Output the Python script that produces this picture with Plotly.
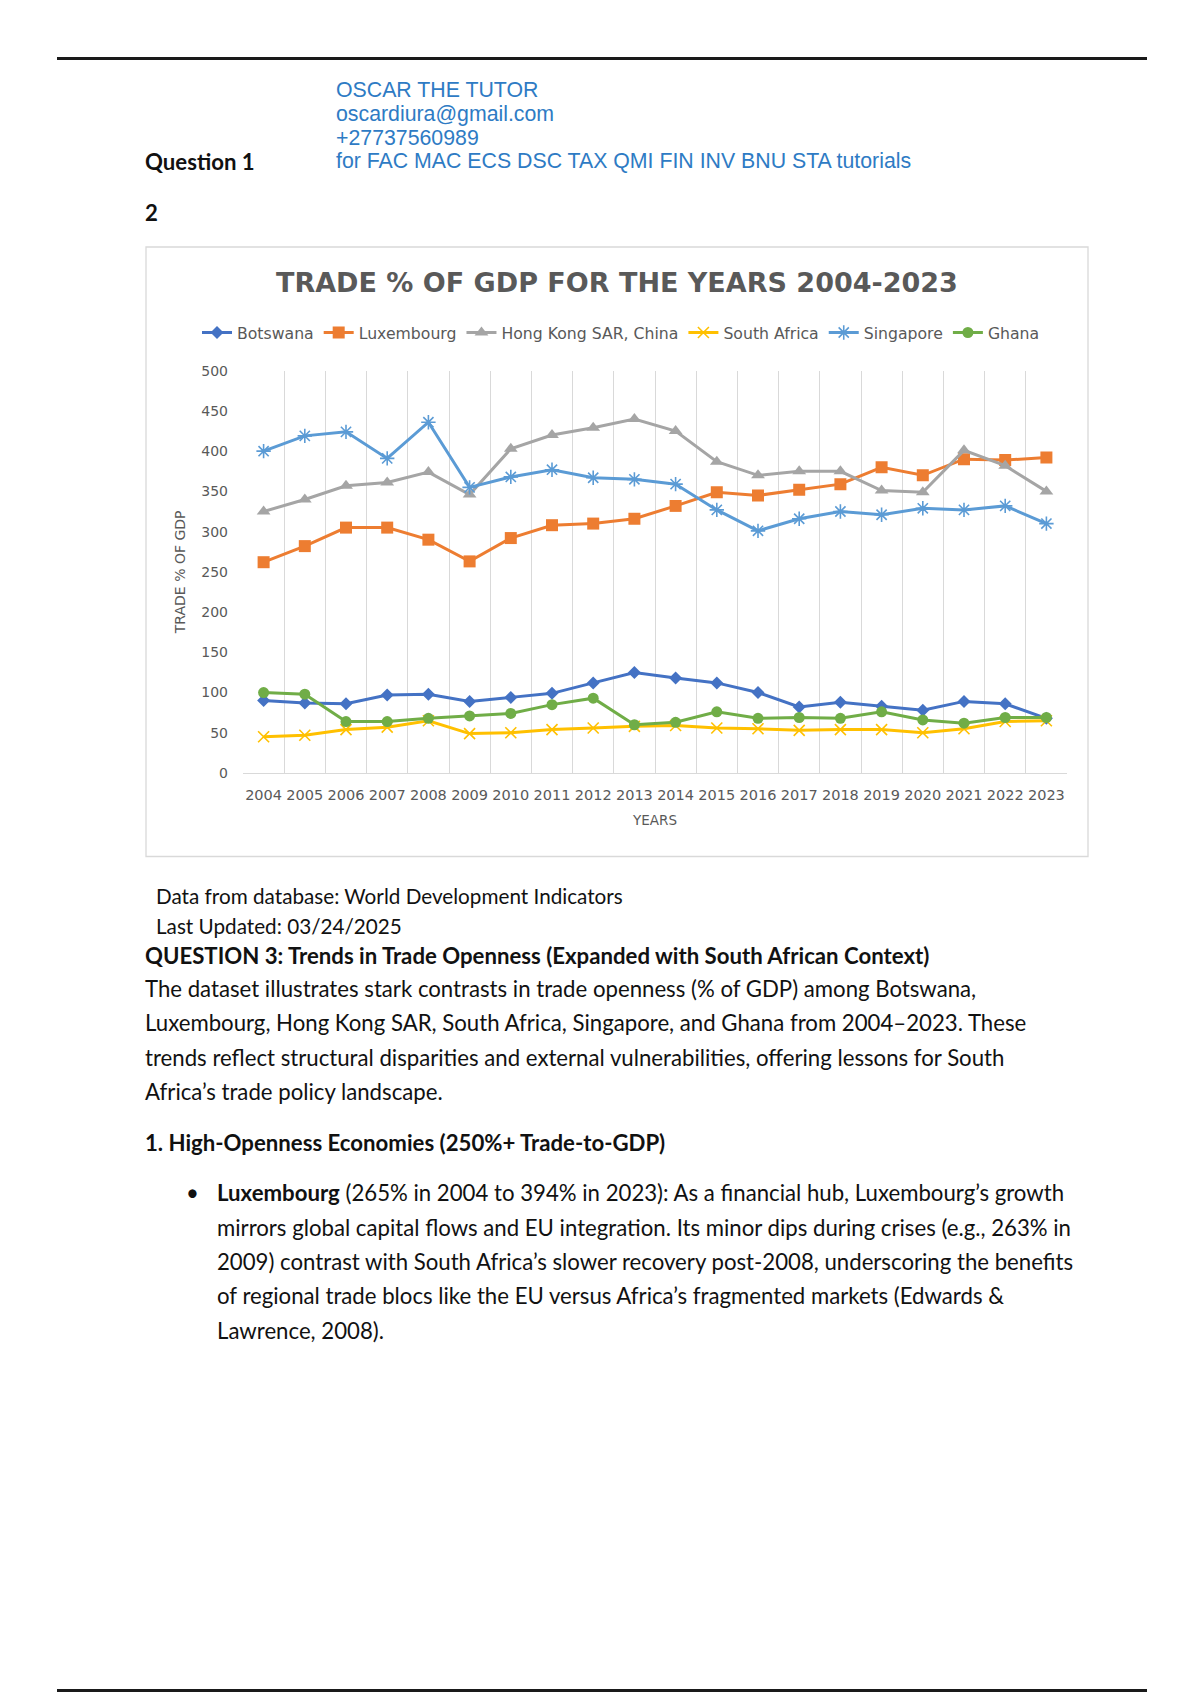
import plotly.graph_objects as go

# ---------------- data ----------------
years = [str(y) for y in range(2004, 2024)]
botswana = [90, 87, 86, 97, 98, 89, 94, 99, 112, 125, 118, 112, 100, 82, 88, 83, 78, 89, 86, 68]
luxembourg = [262, 282, 305, 305, 290, 263, 292, 308, 310, 316, 332, 349, 345, 352, 359, 380, 370, 390, 389, 392]
hong_kong = [325, 340, 357, 361, 374, 346, 403, 420, 429, 440, 425, 387, 370, 375, 375, 351, 349, 401, 382, 350]
south_africa = [45, 47, 54, 57, 65, 49, 50, 54, 56, 58, 59, 56, 55, 53, 54, 54, 50, 55, 64, 65]
singapore = [400, 419, 424, 391, 436, 355, 368, 377, 367, 365, 359, 327, 301, 316, 325, 321, 329, 327, 332, 310]
ghana = [100, 98, 64, 64, 68, 71, 74, 85, 93, 60, 63, 76, 68, 69, 68, 76, 66, 62, 69, 69]

series_names = ["Botswana", "Luxembourg", "Hong Kong SAR, China", "South Africa", "Singapore", "Ghana"]
series_values = [botswana, luxembourg, hong_kong, south_africa, singapore, ghana]
y_ticks = list(range(0, 501, 50))

chart_title = "TRADE % OF GDP FOR THE YEARS 2004-2023"
y_title = "TRADE % OF GDP"
x_title = "YEARS"

header_lines = [
    "OSCAR THE TUTOR",
    "oscardiura@gmail.com",
    "+27737560989",
    "for FAC MAC ECS DSC TAX QMI FIN INV BNU STA tutorials",
]
source_lines = ["Data from database: World Development Indicators", "Last Updated: 03/24/2025"]
q3_heading = "QUESTION 3: Trends in Trade Openness (Expanded with South African Context)"
q3_para = [
    "The dataset illustrates stark contrasts in trade openness (% of GDP) among Botswana,",
    "Luxembourg, Hong Kong SAR, South Africa, Singapore, and Ghana from 2004\u20132023. These",
    "trends reflect structural disparities and external vulnerabilities, offering lessons for South",
    "Africa\u2019s trade policy landscape.",
]
sub_heading = "1. High-Openness Economies (250%+ Trade-to-GDP)"
bullet_lines = [
    "<b>Luxembourg</b> (265% in 2004 to 394% in 2023): As a financial hub, Luxembourg\u2019s growth",
    "mirrors global capital flows and EU integration. Its minor dips during crises (e.g., 263% in",
    "2009) contrast with South Africa\u2019s slower recovery post-2008, underscoring the benefits",
    "of regional trade blocs like the EU versus Africa\u2019s fragmented markets (Edwards &",
    "Lawrence, 2008).",
]

# ---------------- styles ----------------
W, H = 1200, 1700
# vertical calibration of the captured page (measured from previous renders)
V_SCALE, V_OFFSET = 0.99303, 7.4
TEXT_PAD = 3  # annotation inner padding

colors = ["#4472C4", "#ED7D31", "#A5A5A5", "#FFC000", "#5B9BD5", "#70AD47"]
symbols = ["diamond", "square", "triangle-up", "x-thin-open", "asterisk-open", "circle"]
sizes = [10, 12, 12, 11, 12, 11]
GREY = "#595959"
DOC_FONT = "Lato"
CHART_FONT = "DejaVu Sans"
DOC_SIZE = 22.2


def px(x):
    return x / W


def py(y):
    return 1 - min((y - V_OFFSET) / V_SCALE, H - 1.5) / H


fig = go.Figure()
for name, vals, c, s, sz in zip(series_names, series_values, colors, symbols, sizes):
    marker = dict(color=c, size=sz, symbol=s)
    if s.endswith("open"):
        marker["line"] = dict(color=c, width=1.6)
    fig.add_trace(go.Scatter(
        x=years, y=vals, name=name, mode="lines+markers",
        line=dict(color=c, width=3), marker=marker,
    ))

annotations = []


def txt(text, x, y, size=DOC_SIZE, family=DOC_FONT, color="#111111", xanchor="left", bold=False):
    xx = x - TEXT_PAD if xanchor == "left" else x
    annotations.append(dict(
        text=f"<b>{text}</b>" if bold else text, x=px(xx), y=py(y), xref="paper", yref="paper",
        xanchor=xanchor, yanchor="middle", showarrow=False,
        font=dict(family=family, size=size, color=color),
    ))


# header
for i, line in enumerate(header_lines):
    txt(line, 337, 90 + i * 23.7, size=21.3, family="Liberation Sans", color="#2E7BC4")
txt("Question 1", 146, 161, bold=True)
txt("2", 146, 212, bold=True)

# chart title
txt(chart_title, 617, 283, size=27, family=CHART_FONT, color=GREY, xanchor="center", bold=True)

# text below chart
txt(source_lines[0], 157, 898, size=20.7)
txt(source_lines[1], 157, 928, size=20.7)
txt(q3_heading, 146, 957, bold=True)
for i, line in enumerate(q3_para):
    txt(line, 146, 990 + i * 34.6)
txt(sub_heading, 146, 1145, bold=True)
txt("\u2022", 187, 1195)
for i, line in enumerate(bullet_lines):
    txt(line, 218, 1195 + i * 34.5)

shapes = [
    dict(type="line", xref="paper", yref="paper", x0=px(57), x1=px(1147), y0=py(58), y1=py(58),
         line=dict(color="#1a1a1a", width=3)),
    dict(type="line", xref="paper", yref="paper", x0=px(57), x1=px(1147), y0=py(1698), y1=py(1698),
         line=dict(color="#1a1a1a", width=3)),
    dict(type="rect", xref="paper", yref="paper", x0=px(146), x1=px(1088), y0=py(247), y1=py(858),
         line=dict(color="#d9d9d9", width=1.3), layer="below"),
]

fig.update_layout(
    width=W, height=H, margin=dict(l=0, r=0, t=0, b=0),
    paper_bgcolor="white", plot_bgcolor="white",
    showlegend=True,
    legend=dict(orientation="h", x=px(621), xanchor="center", y=py(333), yanchor="middle",
                font=dict(family=CHART_FONT, size=15.7, color=GREY), itemwidth=30,
                bgcolor="rgba(0,0,0,0)"),
    annotations=annotations, shapes=shapes,
    xaxis=dict(
        type="category", categoryorder="array", categoryarray=years,
        domain=[px(243), px(1067)], range=[-0.5, len(years) - 0.5],
        tickson="boundaries", showgrid=True, gridcolor="#d9d9d9", gridwidth=1,
        showline=True, linecolor="#d9d9d9", linewidth=1.3, ticks="", zeroline=False,
        tickangle=0,
        tickfont=dict(family=CHART_FONT, size=14.5, color=GREY), ticklabelstandoff=8,
        title=dict(text=x_title, font=dict(family=CHART_FONT, size=13.5, color=GREY), standoff=13),
        fixedrange=True,
    ),
    yaxis=dict(
        domain=[py(774.3), py(371)], range=[0, 500], tickvals=y_ticks,
        showgrid=False, zeroline=False, showline=False, ticks="",
        tickfont=dict(family=CHART_FONT, size=14, color=GREY), ticklabelstandoff=14,
        title=dict(text=y_title, font=dict(family=CHART_FONT, size=14, color=GREY), standoff=12),
        fixedrange=True,
    ),
)

fig.write_html(
    "out.html",
    config={"displayModeBar": False},
    post_script="document.body.style.margin='0';document.body.style.overflow='hidden';",
)
